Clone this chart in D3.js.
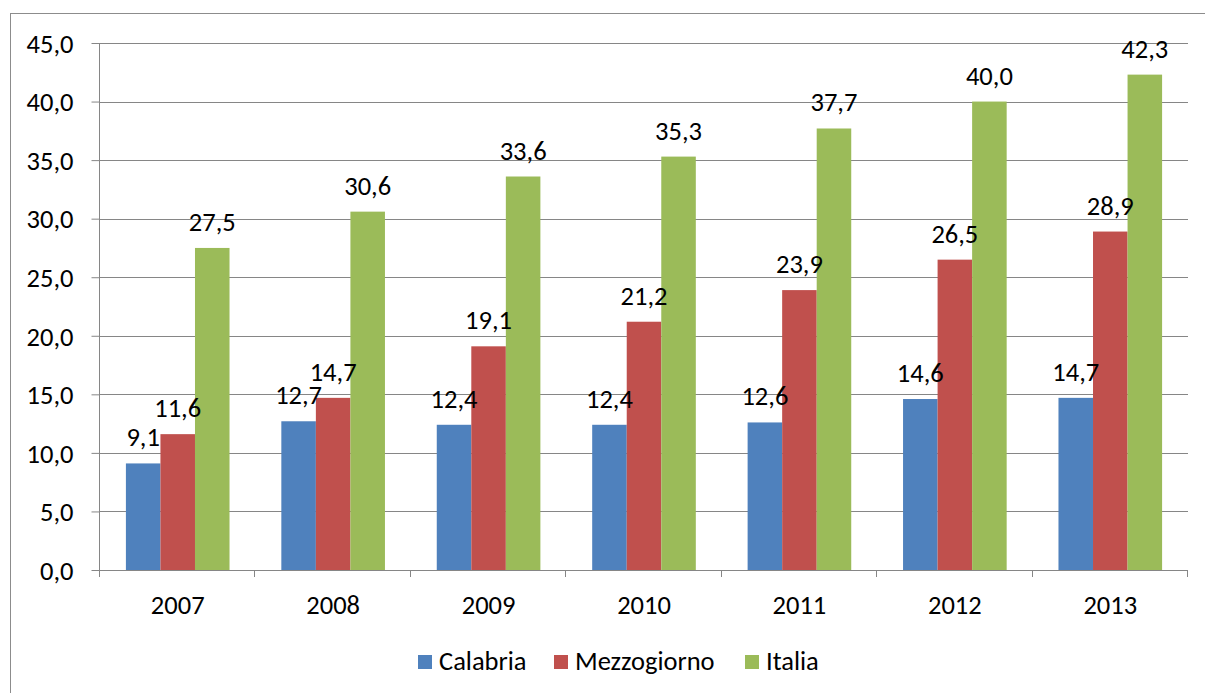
<!DOCTYPE html>
<html>
<head>
<meta charset="utf-8">
<script src="https://cdn.jsdelivr.net/npm/d3@7"></script>
<style>
  body { margin: 0; background: #fff; }
  text { font-family: Carlito, Lato, "Open Sans", sans-serif; fill: #000; }
</style>
</head>
<body>
<script>
var years = ["2007", "2008", "2009", "2010", "2011", "2012", "2013"];
var seriesNames = ["Calabria", "Mezzogiorno", "Italia"];
var calabria = [9.1, 12.7, 12.4, 12.4, 12.6, 14.6, 14.7];
var mezzogiorno = [11.6, 14.7, 19.1, 21.2, 23.9, 26.5, 28.9];
var italia = [27.5, 30.6, 33.6, 35.3, 37.7, 40.0, 42.3];
var yTicks = [0, 5, 10, 15, 20, 25, 30, 35, 40, 45];
var colors = ["#4F81BD", "#C0504D", "#9BBB59"];

var W = 1205, H = 693;
var plot = { left: 100, right: 1188, top: 43, bottom: 570 };
var fs = "26.5px";
var fmt = function (v) { return v.toFixed(1).replace(".", ","); };

var svg = d3.select("body").append("svg").attr("width", W).attr("height", H);

// outer chart border
svg.append("rect")
    .attr("x", 10.5).attr("y", 13.5)
    .attr("width", 1200).attr("height", 700)
    .attr("fill", "none").attr("stroke", "#8c8c8c").attr("stroke-width", 1);

var x0 = d3.scaleBand().domain(years).range([plot.left, plot.right]).paddingInner(1 / 3).paddingOuter(1 / 6);
var x1 = d3.scaleBand().domain(seriesNames).range([0, x0.bandwidth()]);
var y = d3.scaleLinear().domain([0, 45]).range([plot.bottom, plot.top]);

// gridlines
svg.append("g").selectAll("line").data(yTicks.slice(1)).enter().append("line")
    .attr("x1", plot.left).attr("x2", plot.right)
    .attr("y1", function (d) { return Math.round(y(d)) + 0.5; })
    .attr("y2", function (d) { return Math.round(y(d)) + 0.5; })
    .attr("stroke", "#868686").attr("stroke-width", 1);

// y axis
var yAxis = svg.append("g")
    .attr("transform", "translate(" + (plot.left - 0.5) + ",0)")
    .call(d3.axisLeft(y).tickValues(yTicks).tickSize(8).tickPadding(18).tickFormat(fmt));
yAxis.selectAll("text").style("font-size", fs).attr("dy", "0.35em");
yAxis.select(".domain").remove();
yAxis.selectAll(".tick line").attr("stroke", "#868686");

// bars
var series = [calabria, mezzogiorno, italia];
var rows = [];
years.forEach(function (yr, i) {
    seriesNames.forEach(function (s, j) {
        rows.push({ year: yr, name: s, value: series[j][i], color: colors[j] });
    });
});

var bars = svg.append("g");
bars.selectAll("rect").data(rows).enter().append("rect")
    .attr("x", function (d) { return x0(d.year) + x1(d.name); })
    .attr("width", x1.bandwidth())
    .attr("y", function (d) { return y(d.value); })
    .attr("height", function (d) { return plot.bottom - y(d.value); })
    .attr("fill", function (d) { return d.color; });

bars.selectAll("text").data(rows).enter().append("text")
    .attr("x", function (d) { return x0(d.year) + x1(d.name) + x1.bandwidth() / 2; })
    .attr("y", function (d) { return y(d.value) - 17; })
    .attr("text-anchor", "middle")
    .style("font-size", fs)
    .text(function (d) { return fmt(d.value); });

// x axis
var xAxisLine = svg.append("g");
xAxisLine.append("line")
    .attr("x1", plot.left - 8).attr("x2", plot.right)
    .attr("y1", plot.bottom + 0.5).attr("y2", plot.bottom + 0.5)
    .attr("stroke", "#868686");
var bounds = years.map(function (d) { return x0(d) - x0.step() / 6; }).concat([plot.right]);
xAxisLine.selectAll(".tk").data(bounds).enter().append("line")
    .attr("x1", function (d) { return Math.round(d) - 0.5; })
    .attr("x2", function (d) { return Math.round(d) - 0.5; })
    .attr("y1", plot.bottom).attr("y2", plot.bottom + 7)
    .attr("stroke", "#868686");
svg.append("line")
    .attr("x1", plot.left - 0.5).attr("x2", plot.left - 0.5)
    .attr("y1", plot.top).attr("y2", plot.bottom + 7)
    .attr("stroke", "#868686");
xAxisLine.selectAll("text").data(years).enter().append("text")
    .attr("x", function (d) { return x0(d) + x0.bandwidth() / 2; })
    .attr("y", 614)
    .attr("text-anchor", "middle")
    .style("font-size", fs)
    .text(function (d) { return d; });

// legend
var legendX = [418, 554, 745];
var legend = svg.append("g");
seriesNames.forEach(function (s, i) {
    var g = legend.append("g").attr("transform", "translate(" + legendX[i] + ",655)");
    g.append("rect").attr("width", 14).attr("height", 14).attr("fill", colors[i]);
    g.append("text").attr("x", 21).attr("y", 15).style("font-size", fs).text(s);
});
</script>
</body>
</html>
